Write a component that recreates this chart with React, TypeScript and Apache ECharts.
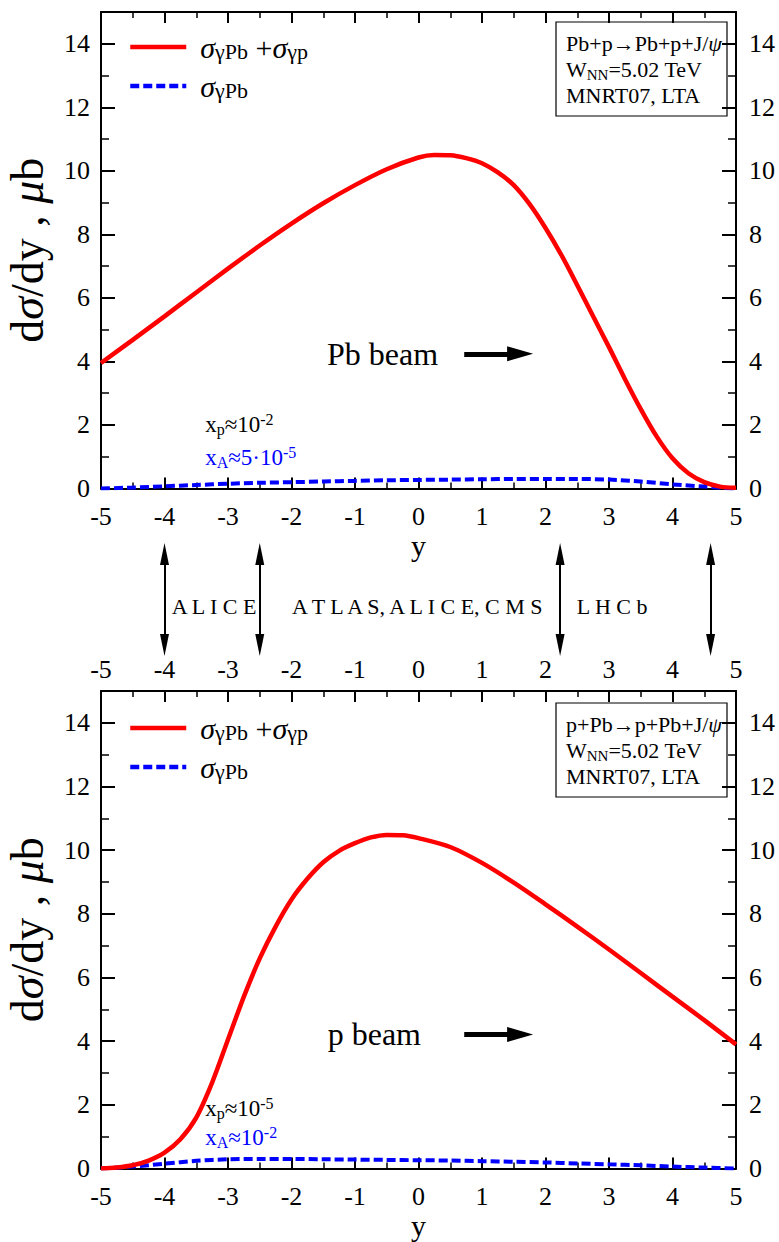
import React, { useEffect, useRef } from "react";
import * as echarts from "echarts";

const FONT = "Liberation Serif, Times New Roman, serif";

// ---- axis ticks ----
const X_TICKS = [-5, -4, -3, -2, -1, 0, 1, 2, 3, 4, 5];
const Y_TICKS = [0, 2, 4, 6, 8, 10, 12, 14];
const Y_MAX = 15;

// ---- Pb+p (upper panel) ----
const TOP_SUM_X = [-5, -4.5, -4, -3.5, -3, -2.5, -2, -1.5, -1, -0.5, 0, 0.25, 0.5, 0.75, 1, 1.25, 1.5, 1.75, 2, 2.25, 2.5, 2.75, 3, 3.25, 3.5, 3.75, 4, 4.25, 4.5, 4.75, 5];
const TOP_SUM = [3.95, 4.68, 5.42, 6.17, 6.92, 7.65, 8.34, 8.98, 9.55, 10.05, 10.42, 10.5, 10.49, 10.4, 10.24, 9.95, 9.55, 8.95, 8.2, 7.35, 6.4, 5.42, 4.45, 3.45, 2.5, 1.64, 0.95, 0.48, 0.2, 0.06, 0.02];
const TOP_PB_X = [-5, -4.5, -4, -3.5, -3, -2.5, -2, -1.5, -1, -0.5, 0, 0.5, 1, 1.5, 2, 2.5, 3, 3.5, 4, 4.5, 4.8, 5];
const TOP_PB = [0.0, 0.03, 0.07, 0.11, 0.15, 0.18, 0.2, 0.22, 0.24, 0.26, 0.27, 0.28, 0.29, 0.3, 0.3, 0.3, 0.28, 0.22, 0.13, 0.06, 0.02, 0.0];

// ---- p+Pb (lower panel) ----
const BOT_SUM_X = [-5, -4.75, -4.5, -4.25, -4, -3.75, -3.5, -3.25, -3, -2.75, -2.5, -2.25, -2, -1.75, -1.5, -1.25, -1, -0.75, -0.5, -0.25, 0, 0.5, 1, 1.5, 2, 2.5, 3, 3.5, 4, 4.5, 5];
const BOT_SUM = [0.0, 0.03, 0.1, 0.25, 0.5, 0.92, 1.6, 2.7, 4.05, 5.4, 6.6, 7.6, 8.45, 9.1, 9.62, 9.98, 10.22, 10.4, 10.48, 10.47, 10.38, 10.1, 9.6, 8.98, 8.3, 7.6, 6.88, 6.14, 5.4, 4.66, 3.9];
const BOT_PB_X = [-5, -4.5, -4, -3.5, -3, -2.5, -2, -1.5, -1, -0.5, 0, 0.5, 1, 1.5, 2, 2.5, 3, 3.5, 4, 4.5, 5];
const BOT_PB = [0.0, 0.06, 0.15, 0.24, 0.29, 0.3, 0.3, 0.29, 0.28, 0.27, 0.26, 0.25, 0.23, 0.21, 0.19, 0.16, 0.13, 0.1, 0.06, 0.03, 0.0];

// ---- legend / info texts ----
const LEGEND_TEXT: Record<string, string> = {
  sumTop: "{s|σ}{b|γPb} {n|+}{s|σ}{b|γp}",
  pbTop: "{s|σ}{b|γPb}",
  sumBot: "{s|σ}{b|γPb} {n|+}{s|σ}{b|γp}",
  pbBot: "{s|σ}{b|γPb}",
};
const INFO_TOP = ["Pb+p→Pb+p+J/{i|ψ}", "W{sb|NN}=5.02 TeV", "MNRT07, LTA"];
const INFO_BOT = ["p+Pb→p+Pb+J/{i|ψ}", "W{sb|NN}=5.02 TeV", "MNRT07, LTA"];

// ---- annotations (data coordinates) ----
const TOP_NOTES = ["{x|x}{sb|p}{x|≈10}{sp|-2}", "{x|x}{sb|A}{x|≈5·10}{sp|-5}", "{bm|Pb beam}"];
const TOP_NOTE_POS = [[-3.36, 2.0], [-3.36, 0.98], [-1.44, 4.24]];
const BOT_NOTES = ["{x|x}{sb|p}{x|≈10}{sp|-5}", "{x|x}{sb|A}{x|≈10}{sp|-2}", "{bm|p beam}"];
const BOT_NOTE_POS = [[-3.36, 1.9], [-3.36, 0.96], [-1.43, 4.21]];
const NOTE_COLORS = ["#000000", "#0000ff", "#000000"];
const BEAM_ARROW_X = [0.72, 1.6];

const DETECTOR_EDGES = [-4, -2.5, 2.23, 4.6];
const DETECTOR_NAMES = ["A L I C E", "A T L A S, A L I C E, C M S", "L H C b"];
const DETECTOR_CENTERS = [-3.22, -0.02, 3.05];

const zip = (xs: number[], ys: number[]) => xs.map((x, i) => [x, ys[i]]);

const NOTE_RICH = {
  x: { fontSize: 23, lineHeight: 26, fontFamily: FONT },
  sb: { fontSize: 16, lineHeight: 12, verticalAlign: "bottom", fontFamily: FONT },
  sp: { fontSize: 16, lineHeight: 12, verticalAlign: "top", fontFamily: FONT },
  bm: { fontSize: 32, lineHeight: 34, fontFamily: FONT },
};

function buildOption() {
  const grids = [
    { left: 101, top: 12, width: 635, height: 476.5, outerBoundsMode: "none", containLabel: false },
    { left: 101, top: 691, width: 635, height: 477.5, outerBoundsMode: "none", containLabel: false },
    { left: 101, top: 554, width: 635, height: 91, outerBoundsMode: "none", containLabel: false },
  ];

  const xAxisDef = (gridIndex: number, position: string, showLabels: boolean, name?: string) => ({
    type: "value",
    gridIndex,
    position,
    min: X_TICKS[0],
    max: X_TICKS[X_TICKS.length - 1],
    interval: X_TICKS[1] - X_TICKS[0],
    name: name || "",
    nameLocation: "middle",
    nameGap: 41,
    nameTextStyle: { fontFamily: FONT, fontSize: 30, lineHeight: 30, color: "#000" },
    axisLine: { show: true, onZero: false, lineStyle: { color: "#000", width: 2 } },
    axisTick: { show: true, inside: true, length: 11, lineStyle: { color: "#000", width: 2 } },
    minorTick: { show: true, splitNumber: 2, length: 6, lineStyle: { color: "#000", width: 1.5 } },
    splitLine: { show: false },
    minorSplitLine: { show: false },
    axisLabel: {
      show: showLabels,
      fontFamily: FONT,
      fontSize: 26,
      color: "#000",
      margin: position === "top" ? 9 : 15,
    },
  });

  const yMajor = (gridIndex: number, position: string, withName: boolean) => ({
    type: "value",
    gridIndex,
    position,
    min: Y_TICKS[0],
    max: Y_MAX,
    interval: Y_TICKS[1] - Y_TICKS[0],
    name: withName ? "d{i|σ}/dy , {i|μ}b" : "",
    nameLocation: "middle",
    nameGap: 54,
    nameTextStyle: {
      fontFamily: FONT,
      fontSize: 46,
      lineHeight: 40,
      color: "#000",
      rich: { i: { fontStyle: "italic", fontSize: 46, lineHeight: 40, fontFamily: FONT } },
    },
    axisLine: { show: true, onZero: false, lineStyle: { color: "#000", width: 2 } },
    axisTick: { show: true, inside: true, length: 14, lineStyle: { color: "#000", width: 2 } },
    splitLine: { show: false },
    axisLabel: {
      fontFamily: FONT,
      fontSize: 26,
      color: "#000",
      margin: position === "left" ? 11 : 13,
      showMaxLabel: false,
    },
  });

  const yMinor = (gridIndex: number, position: string) => ({
    type: "value",
    gridIndex,
    position,
    min: Y_TICKS[0],
    max: Y_MAX,
    interval: (Y_TICKS[1] - Y_TICKS[0]) / 2,
    axisLine: { show: false, onZero: false },
    axisTick: { show: true, inside: true, length: 8, lineStyle: { color: "#000", width: 1.5 } },
    splitLine: { show: false },
    axisLabel: { show: false },
  });

  const xAxis = [
    xAxisDef(0, "bottom", true, "y"),
    xAxisDef(0, "top", false),
    xAxisDef(1, "bottom", true, "y"),
    xAxisDef(1, "top", true),
    { type: "value", gridIndex: 2, show: false, min: X_TICKS[0], max: X_TICKS[X_TICKS.length - 1] },
  ];
  const yAxis = [
    yMajor(0, "left", true),
    yMinor(0, "left"),
    yMajor(0, "right", false),
    yMinor(0, "right"),
    yMajor(1, "left", true),
    yMinor(1, "left"),
    yMajor(1, "right", false),
    yMinor(1, "right"),
    { type: "value", gridIndex: 2, show: false, min: 0, max: 1 },
  ];

  const redLine = (name: string, xs: number[], ys: number[], xi: number, yi: number) => ({
    type: "line",
    name,
    xAxisIndex: xi,
    yAxisIndex: yi,
    data: zip(xs, ys),
    symbol: "none",
    smooth: 0.3,
    z: 3,
    color: "#ff0000",
    lineStyle: { color: "#ff0000", width: 4.5 },
  });
  const blueLine = (name: string, xs: number[], ys: number[], xi: number, yi: number) => ({
    type: "line",
    name,
    xAxisIndex: xi,
    yAxisIndex: yi,
    data: zip(xs, ys),
    symbol: "none",
    smooth: 0.3,
    z: 2,
    color: "#0000ff",
    lineStyle: { color: "#0000ff", width: 4, type: [9, 4] },
  });

  const notes = (texts: string[], pos: number[][], xi: number, yi: number, y: number) => ({
    type: "scatter",
    xAxisIndex: xi,
    yAxisIndex: yi,
    symbolSize: 0,
    silent: true,
    color: "#000",
    itemStyle: { opacity: 1 },
    z: 5,
    data: texts.map((t, i) => ({
      value: pos[i],
      label: { formatter: t, color: NOTE_COLORS[i] },
    })),
    label: {
      show: true,
      position: "right",
      distance: 0,
      opacity: 1,
      fontFamily: FONT,
      fontSize: 23,
      textBorderWidth: 0,
      rich: NOTE_RICH,
    },
    markLine: {
      silent: true,
      symbol: ["none", "triangle"],
      label: { show: false },
      emphasis: { disabled: true },
      lineStyle: { color: "#000", width: 5, type: "solid", opacity: 1 },
      data: [[
        { coord: [BEAM_ARROW_X[0], y], symbolSize: 1 },
        { coord: [BEAM_ARROW_X[1], y], symbolSize: [15, 26] },
      ]],
    },
  });

  const detectors = {
    type: "scatter",
    xAxisIndex: 4,
    yAxisIndex: 8,
    symbolSize: 0,
    silent: true,
    color: "#000",
    itemStyle: { opacity: 1 },
    data: DETECTOR_NAMES.map((n, i) => ({ value: [DETECTOR_CENTERS[i], 0.42], name: n })),
    label: {
      show: true,
      position: "inside",
      formatter: "{b}",
      opacity: 1,
      fontFamily: FONT,
      fontSize: 22,
      color: "#000000",
      textBorderWidth: 0,
    },
    markLine: {
      silent: true,
      symbol: ["triangle", "triangle"],
      label: { show: false },
      emphasis: { disabled: true },
      lineStyle: { color: "#000", width: 2, type: "solid", opacity: 1 },
      data: DETECTOR_EDGES.map((e) => [
        { coord: [e, 0], symbolSize: [9, 22] },
        { coord: [e, 1], symbolSize: [9, 22] },
      ]),
    },
  };

  const legendCommon = {
    orient: "vertical",
    left: 128,
    itemWidth: 56,
    itemHeight: 14,
    itemGap: 9,
    padding: 0,
    selectedMode: false,
    itemStyle: { opacity: 0, color: "transparent", borderWidth: 0 },
    lineStyle: { width: 4.5 },
    formatter: (name: string) => LEGEND_TEXT[name],
    textStyle: {
      fontFamily: FONT,
      fontSize: 30,
      color: "#000",
      padding: [0, 0, 0, 9],
      rich: {
        s: { fontStyle: "italic", fontSize: 30, lineHeight: 30, fontFamily: FONT },
        b: { fontSize: 22, lineHeight: 16, verticalAlign: "bottom", fontFamily: FONT },
        n: { fontSize: 30, lineHeight: 30, fontFamily: FONT },
      },
    },
  };

  const infoBox = (lines: string[], y: number) => ({
    type: "group",
    x: 556,
    y,
    children: [
      {
        type: "rect",
        shape: { x: 0, y: 0, width: 171, height: 94 },
        style: { fill: "#fff", stroke: "#000", lineWidth: 1.2 },
      },
      {
        type: "text",
        x: 10,
        y: 8,
        style: {
          text: lines.join("\n"),
          fontFamily: FONT,
          fontSize: 22,
          lineHeight: 26,
          fill: "#000",
          rich: {
            i: { fontStyle: "italic", fontSize: 22, lineHeight: 26, fontFamily: FONT },
            sb: { fontSize: 15, lineHeight: 14, verticalAlign: "bottom", fontFamily: FONT },
          },
        },
      },
    ],
  });

  return {
    animation: false,
    backgroundColor: "#fff",
    textStyle: { fontFamily: FONT },
    grid: grids,
    xAxis,
    yAxis,
    legend: [
      { ...legendCommon, top: 32, data: ["sumTop", "pbTop"] },
      { ...legendCommon, top: 713, data: ["sumBot", "pbBot"] },
    ],
    graphic: [infoBox(INFO_TOP, 22), infoBox(INFO_BOT, 703)],
    series: [
      blueLine("pbTop", TOP_PB_X, TOP_PB, 0, 0),
      redLine("sumTop", TOP_SUM_X, TOP_SUM, 0, 0),
      blueLine("pbBot", BOT_PB_X, BOT_PB, 2, 4),
      redLine("sumBot", BOT_SUM_X, BOT_SUM, 2, 4),
      notes(TOP_NOTES, TOP_NOTE_POS, 0, 0, TOP_NOTE_POS[2][1]),
      notes(BOT_NOTES, BOT_NOTE_POS, 2, 4, BOT_NOTE_POS[2][1]),
      detectors,
    ],
  };
}

export default function App() {
  const ref = useRef<HTMLDivElement>(null);
  useEffect(() => {
    document.body.style.margin = "0";
    if (!ref.current) return;
    const chart = echarts.init(ref.current, undefined, { renderer: "svg" });
    chart.setOption(buildOption() as any);
    return () => chart.dispose();
  }, []);
  return <div ref={ref} style={{ width: 779, height: 1242 }} />;
}
